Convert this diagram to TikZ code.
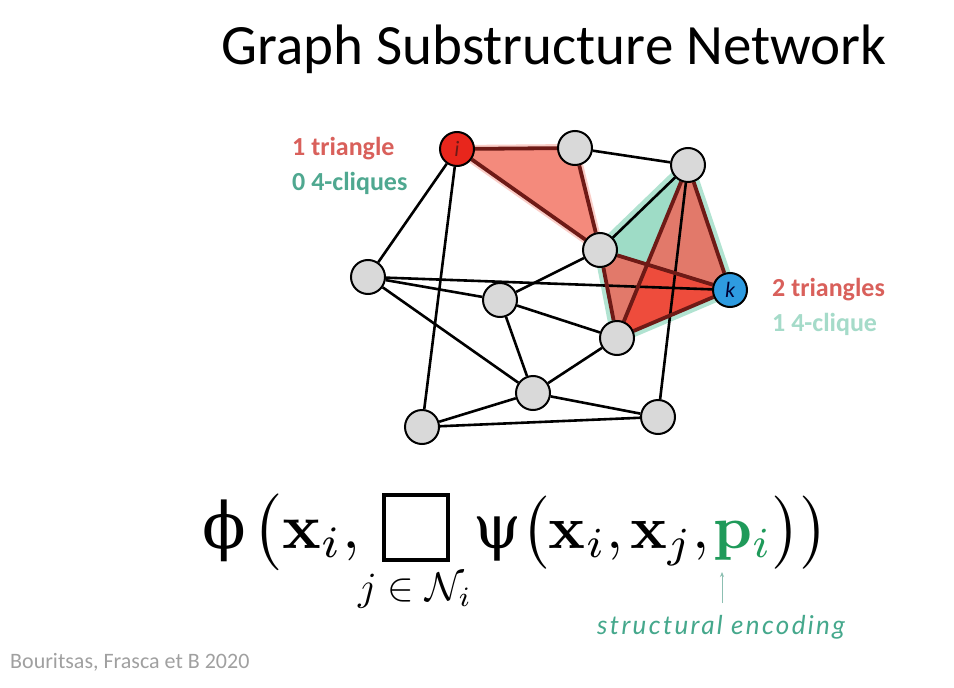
\documentclass[tikz,border=0pt]{standalone}
\usepackage[no-math]{fontspec}
\usepackage{graphicx}
\setmainfont{Carlito}
\newfontfamily\dvserif{DejaVu Serif}
\newfontfamily\handfont{Lato}
\usetikzlibrary{arrows.meta}
\pgfdeclarelayer{bg}
\pgfsetlayers{bg,main}
\definecolor{nodegray}{HTML}{D9D9D9}
\definecolor{ired}{HTML}{E8261C}
\definecolor{kblue}{HTML}{2E9BE0}
\definecolor{edgered}{HTML}{6E1A16}
\definecolor{trired}{HTML}{F48A7C}
\definecolor{cliquered}{HTML}{E2796A}
\definecolor{cliquedark}{HTML}{EE4C3C}
\definecolor{tealglow}{HTML}{9EDCC6}
\definecolor{labred}{HTML}{D9605B}
\definecolor{labteal}{HTML}{4FA890}
\definecolor{labtealtwo}{HTML}{A5DBC9}
\definecolor{pgreen}{HTML}{1F9A5A}
\definecolor{handcol}{HTML}{45A88C}
\definecolor{arrowcol}{HTML}{8CBFB2}
\definecolor{creditcol}{HTML}{A0A0A0}
\begin{document}
\begin{tikzpicture}[x=1pt,y=-1pt,
  gnode/.style={circle,draw=black,line width=2pt,fill=nodegray,minimum size=34pt,inner sep=0pt},
  plainedge/.style={line width=2.6pt,black},
  hedge/.style={line width=3.8pt,edgered},
  lab/.style={anchor=base west,inner sep=0pt,font=\fontsize{26}{26}\selectfont\bfseries},
  formula/.style={anchor=base west,inner sep=0pt}]
\useasboundingbox (0,0) rectangle (954,688);
% title
\node[anchor=base,inner sep=0pt,font=\fontsize{57}{57}\selectfont] (title) at (554,64) {Graph Substructure Network};
% nodes
\node[gnode,fill=ired] (i) at (457,149) {\fontsize{22}{22}\selectfont\itshape\color{edgered}i};
\node[gnode] (n2) at (575,148) {};
\node[gnode] (n3) at (688,165) {};
\node[gnode] (n4) at (600,250) {};
\node[gnode,fill=kblue] (k) at (730,290) {\fontsize{22}{22}\selectfont\itshape\color{black!80!blue}k};
\node[gnode] (n6) at (368,277) {};
\node[gnode] (n7) at (500,300) {};
\node[gnode] (n8) at (617,338) {};
\node[gnode] (n9) at (533,393) {};
\node[gnode] (n10) at (422,427) {};
\node[gnode] (n11) at (658,417) {};
\begin{pgfonlayer}{bg}
  \fill[white] (0,0) rectangle (954,688);
  % teal 4-clique
  \draw[tealglow,line width=12pt,line join=round,opacity=0.8] (n3.center) -- (n4.center) -- (n8.center) -- (k.center) -- cycle;
  \fill[tealglow] (n3.center) -- (n4.center) -- (n8.center) -- (k.center) -- cycle;
  % red triangles
  \fill[cliquered] (n3.center) -- (n8.center) -- (k.center) -- cycle;
  \fill[cliquered] (n4.center) -- (n8.center) -- (k.center) -- cycle;
  \fill[cliquedark] (n8.center) -- (k.center) -- (intersection of n3.center--n8.center and n4.center--k.center) -- cycle;
  \draw[trired!70,line width=8pt,line join=round,opacity=0.6] (i.center) -- (n2.center) -- (n4.center) -- cycle;
  \fill[trired] (i.center) -- (n2.center) -- (n4.center) -- cycle;
  % plain edges
  \draw[plainedge] (i) -- (n6);
  \draw[plainedge] (i) -- (n10);
  \draw[plainedge] (n2) -- (n3);
  \draw[plainedge] (n3) -- (n4);
  \draw[plainedge] (n3) -- (n11);
  \draw[plainedge] (n4) -- (n7);
  \draw[plainedge] (n6) -- (k);
  \draw[plainedge] (n6) -- (n7);
  \draw[plainedge] (n6) -- (n9);
  \draw[plainedge] (n7) -- (n8);
  \draw[plainedge] (n7) -- (n9);
  \draw[plainedge] (n8) -- (n9);
  \draw[plainedge] (n9) -- (n10);
  \draw[plainedge] (n9) -- (n11);
  \draw[plainedge] (n10) -- (n11);
  % highlighted edges
  \draw[hedge] (i) -- (n2);
  \draw[hedge] (i) -- (n4);
  \draw[hedge] (n2) -- (n4);
  \draw[hedge] (n3) -- (k);
  \draw[hedge] (n3) -- (n8);
  \draw[hedge] (n4) -- (k);
  \draw[hedge] (n4) -- (n8);
  \draw[hedge] (n8) -- (k);
\end{pgfonlayer}
% labels
\node[lab,text=labred] (l1) at (292,155) {1 triangle};
\node[lab,text=labteal] (l2) at (292,190) {0 4-cliques};
\node[lab,text=labred] (l3) at (772,296) {2 triangles};
\node[lab,text=labtealtwo] (l4) at (772,331) {1 4-clique};
% formula
\node[formula] (fl) at (202,548) {\scalebox{6.4}{$\mbox{\dvserif ϕ}\mkern2mu\bigl(\mathbf{x}_i{,}$}};
\node[draw,line width=3.5pt,minimum width=64pt,minimum height=65pt,inner sep=0pt] (box) at (416,527.5) {};
\node[anchor=base,inner sep=0pt] (sub) at (415,600) {\scalebox{4}{$j\in\mathcal{N}_i$}};
\node[formula] (fr) at (473,548) {\scalebox{6.1}{$\mbox{\dvserif ψ}\bigl(\mathbf{x}_i{,}\mkern2mu\mathbf{x}_j{,}\mkern1mu\textcolor{pgreen}{\mathbf{p}_i}\bigr)\bigr)$}};
\coordinate (aS) at (722,603);
\coordinate (aE) at (722,572);
\draw[-{Stealth[length=5pt,width=4pt]},arrowcol,line width=0.8pt] (aS) -- (aE);
\node[anchor=base west,inner sep=0pt,text=handcol,font=\handfont\itshape\fontsize{26}{26}\selectfont\addfontfeature{LetterSpace=9}] (se) at (597,634) {structural encoding};
% credit
\node[anchor=base west,inner sep=0pt,text=creditcol,font=\fontsize{22}{22}\selectfont] (cr) at (10,668) {Bouritsas, Frasca et B 2020};
\end{tikzpicture}
\end{document}
